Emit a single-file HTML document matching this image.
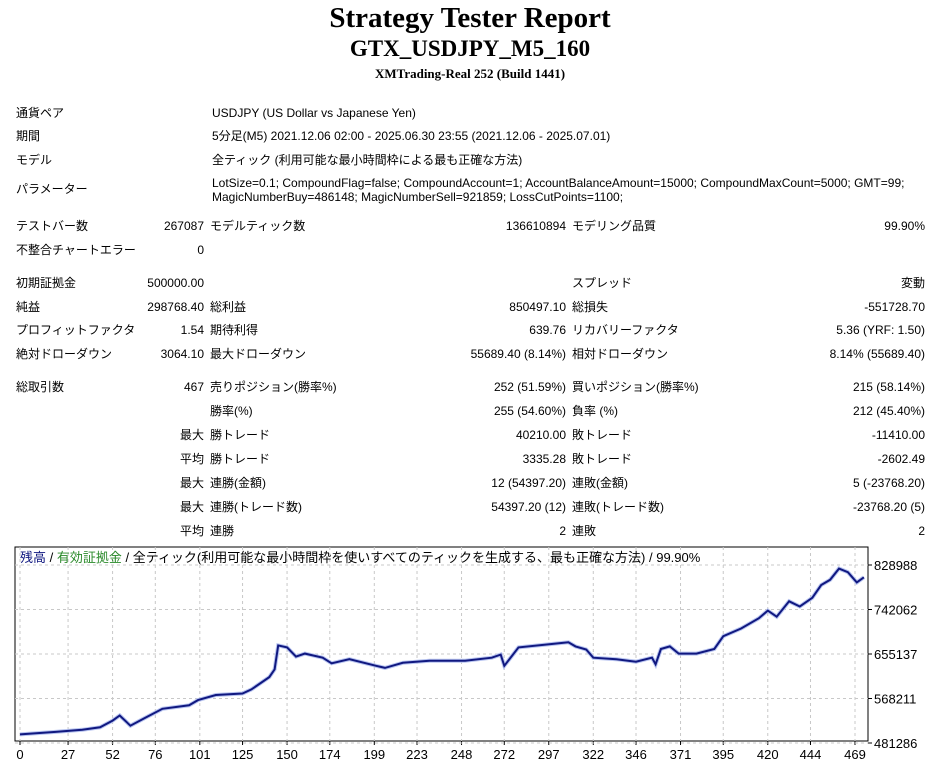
<!DOCTYPE html>
<html><head><meta charset="utf-8">
<style>
body{margin:0;width:940px;height:772px;background:#fff;position:relative;overflow:hidden;font-family:"Liberation Sans","Noto Sans CJK JP",sans-serif;font-size:12px;color:#000}
.t{position:absolute;left:0;width:940px;text-align:center;font-family:"Liberation Serif","Noto Serif CJK SC",serif;font-weight:bold}
.c{position:absolute;height:14px;line-height:14px;white-space:nowrap}
.r{text-align:right}
</style></head><body>
<div class="t" style="top:2px;font-size:29px">Strategy Tester Report</div>
<div class="t" style="top:36px;font-size:23px">GTX_USDJPY_M5_160</div>
<div class="t" style="top:66px;font-size:13px">XMTrading-Real 252 (Build 1441)</div>

<div id="tbl"></div>

<svg id="chart" width="940" height="772" style="position:absolute;left:0;top:0" xmlns="http://www.w3.org/2000/svg"></svg>

<script>
const rows=[
[113,[[16,'l','通貨ペア'],[212,'l','USDJPY (US Dollar vs Japanese Yen)']]],
[136,[[16,'l','期間'],[212,'l','5分足(M5) 2021.12.06 02:00 - 2025.06.30 23:55 (2021.12.06 - 2025.07.01)']]],
[160,[[16,'l','モデル'],[212,'l','全ティック (利用可能な最小時間枠による最も正確な方法)']]],
[189,[[16,'l','パラメーター']]],
[183,[[212,'l','LotSize=0.1; CompoundFlag=false; CompoundAccount=1; AccountBalanceAmount=15000; CompoundMaxCount=5000; GMT=99;']]],
[197,[[212,'l','MagicNumberBuy=486148; MagicNumberSell=921859; LossCutPoints=1100;']]],
[226,[[16,'l','テストバー数'],[204,'r','267087'],[210,'l','モデルティック数'],[566,'r','136610894'],[572,'l','モデリング品質'],[925,'r','99.90%']]],
[250,[[16,'l','不整合チャートエラー'],[204,'r','0']]],
[283,[[16,'l','初期証拠金'],[204,'r','500000.00'],[572,'l','スプレッド'],[925,'r','変動']]],
[307,[[16,'l','純益'],[204,'r','298768.40'],[210,'l','総利益'],[566,'r','850497.10'],[572,'l','総損失'],[925,'r','-551728.70']]],
[330,[[16,'l','プロフィットファクタ'],[204,'r','1.54'],[210,'l','期待利得'],[566,'r','639.76'],[572,'l','リカバリーファクタ'],[925,'r','5.36 (YRF: 1.50)']]],
[354,[[16,'l','絶対ドローダウン'],[204,'r','3064.10'],[210,'l','最大ドローダウン'],[566,'r','55689.40 (8.14%)'],[572,'l','相対ドローダウン'],[925,'r','8.14% (55689.40)']]],
[387,[[16,'l','総取引数'],[204,'r','467'],[210,'l','売りポジション(勝率%)'],[566,'r','252 (51.59%)'],[572,'l','買いポジション(勝率%)'],[925,'r','215 (58.14%)']]],
[411,[[210,'l','勝率(%)'],[566,'r','255 (54.60%)'],[572,'l','負率 (%)'],[925,'r','212 (45.40%)']]],
[435,[[204,'r','最大'],[210,'l','勝トレード'],[566,'r','40210.00'],[572,'l','敗トレード'],[925,'r','-11410.00']]],
[459,[[204,'r','平均'],[210,'l','勝トレード'],[566,'r','3335.28'],[572,'l','敗トレード'],[925,'r','-2602.49']]],
[483,[[204,'r','最大'],[210,'l','連勝(金額)'],[566,'r','12 (54397.20)'],[572,'l','連敗(金額)'],[925,'r','5 (-23768.20)']]],
[507,[[204,'r','最大'],[210,'l','連勝(トレード数)'],[566,'r','54397.20 (12)'],[572,'l','連敗(トレード数)'],[925,'r','-23768.20 (5)']]],
[531,[[204,'r','平均'],[210,'l','連勝'],[566,'r','2'],[572,'l','連敗'],[925,'r','2']]]
];
const tbl=document.getElementById('tbl');
rows.forEach(([y,cells])=>cells.forEach(([x,a,txt])=>{
  const d=document.createElement('div');
  d.className='c'+(a==='r'?' r':'');
  
  
  d.style.top=(y-7)+'px';
  if(a==='r'){d.style.left=(x-300)+'px';d.style.width='300px';}else{d.style.left=x+'px';}
  d.textContent=txt;tbl.appendChild(d);
}));

// chart data
const xTicks=[0,27,52,76,101,125,150,174,199,223,248,272,297,322,346,371,395,420,444,469];
const yTicks=[481286,568211,655137,742062,828988];
const tradeIdx=[0,20,35,45,52,56,62,70,80,95,100,110,125,130,140,143,145,150,155,160,170,175,185,200,205,215,230,250,265,270,272,276,280,300,308,312,318,322,335,346,355,357,360,365,370,380,390,395,405,415,420,425,432,438,445,450,455,460,465,470,474];
const balance=[498000,503000,507000,512000,525000,535000,515000,530000,548000,555000,565000,575000,578000,586000,610000,625000,672000,668000,650000,656000,648000,637000,645000,632000,628000,638000,642000,642000,648000,654000,632000,650000,668000,675000,678000,670000,664000,648000,645000,640000,648000,635000,665000,670000,656000,656000,665000,690000,705000,725000,740000,728000,758000,748000,765000,790000,800000,822000,815000,795000,805000];

const L=15,R=868,T=547,B=741;
const xs=i=>20+i*(855-20)/469;
const ys=v=>743-(v-481286)/(828988-481286)*(743-565);
const svg=document.getElementById('chart');
const NS='http://www.w3.org/2000/svg';
function mk(tag,attrs,name){const e=document.createElementNS(NS,tag);for(const k in attrs)e.setAttribute(k,attrs[k]);
 
 
 svg.appendChild(e);return e;}
mk('rect',{x:L,y:T,width:R-L,height:B-T,fill:'#fff',stroke:'#000','stroke-width':1},'plot-frame');
xTicks.forEach(t=>{const x=xs(t);
 mk('line',{x1:x,y1:T,x2:x,y2:B,stroke:'#c8c8c8','stroke-dasharray':'3,3'},'x-gridline');
 mk('line',{x1:x,y1:B,x2:x,y2:B+4,stroke:'#000'},'x-tick');
 const tx=mk('text',{x:x,y:759,'text-anchor':'middle','font-size':13,'font-family':'Liberation Sans, sans-serif'},'x-tick-label');tx.textContent=t;});
yTicks.forEach(v=>{const y=ys(v);
 mk('line',{x1:L,y1:y,x2:R,y2:y,stroke:'#c8c8c8','stroke-dasharray':'3,3'},'y-gridline');
 mk('line',{x1:R,y1:y,x2:R+4,y2:y,stroke:'#000'},'y-tick');
 const tx=mk('text',{x:874,y:y+5,'font-size':13,'font-family':'Liberation Sans, sans-serif'},'y-tick-label');tx.textContent=v;});
const pts=tradeIdx.map((t,i)=>xs(t).toFixed(1)+','+ys(balance[i]).toFixed(1)).join(' ');
mk('polyline',{points:pts,fill:'none',stroke:'#b8c4f0','stroke-width':4},'equity-line');
mk('polyline',{points:pts,fill:'none',stroke:'#101880','stroke-width':2},'balance-line');
const lg=mk('text',{x:20,y:562,'font-size':13,'font-family':'Liberation Sans, Noto Sans CJK JP, sans-serif'},'chart-legend');
lg.innerHTML='<tspan fill="#101880">残高</tspan> / <tspan fill="#2a8a2a">有効証拠金</tspan> / 全ティック(利用可能な最小時間枠を使いすべてのティックを生成する、最も正確な方法) / 99.90%';
</script>
</body></html>
